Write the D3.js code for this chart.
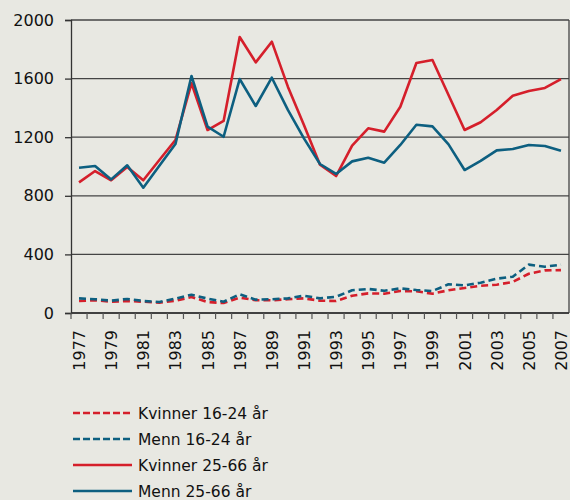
<!DOCTYPE html>
<html>
<head>
<meta charset="utf-8">
<script src="https://cdn.jsdelivr.net/npm/d3@7"></script>
<style>
  body { margin: 0; background: #e8e8e2; }
  svg { display: block; font-family: "DejaVu Sans", sans-serif; }
</style>
</head>
<body>
<div class="board"></div>
<script>
const years = d3.range(1977, 2008)

// values
const kvinnerUng = [82, 87, 77, 82, 77, 70, 84, 109, 75, 68, 105, 87, 87, 94, 100, 84,
    82, 118, 134, 132, 150, 148, 132, 155, 171, 186, 193, 212, 268, 291, 293]
const mennUng = [100, 94, 84, 96, 82, 75, 98, 125, 98, 77, 128, 91, 94, 100, 118, 100,
    111, 155, 164, 152, 168, 157, 150, 196, 189, 207, 234, 248, 330, 316, 330]
const kvinnerVoksen = [892, 969, 906, 997, 906, 1044, 1181, 1568, 1249, 1311, 1884, 1711,
    1852, 1545, 1283, 1012, 935, 1142, 1261, 1238, 1408, 1706, 1727, 1488, 1249, 1302,
    1386, 1483, 1515, 1536, 1597]
const mennVoksen = [992, 1003, 912, 1008, 855, 1005, 1153, 1618, 1272, 1203, 1597, 1413,
    1606, 1386, 1192, 1017, 949, 1035, 1060, 1026, 1147, 1285, 1274, 1151, 976, 1038,
    1110, 1119, 1147, 1140, 1108]

const yTicks = [0, 400, 800, 1200, 1600, 2000]
const labels = ["Kvinner 16-24 år", "Menn 16-24 år", "Kvinner 25-66 år", "Menn 25-66 år"]

const RED = "#d51f2b", BLUE = "#0d5f80"

const series = [
    { name: labels[0], values: kvinnerUng, color: RED, dash: "7,4" },
    { name: labels[1], values: mennUng, color: BLUE, dash: "7,4" },
    { name: labels[2], values: kvinnerVoksen, color: RED, dash: null },
    { name: labels[3], values: mennVoksen, color: BLUE, dash: null }
]

const W = 570, H = 500
const margin = { top: 20, right: 1, bottom: 187, left: 71 }
const width = W - margin.left - margin.right,
    height = H - margin.top - margin.bottom

const svg = d3.select(".board")
    .append("svg")
    .attr("width", W)
    .attr("height", H)

const g = svg.append("g")
    .attr("transform", `translate(${margin.left}, ${margin.top})`)

const xScale = d3.scaleBand()
    .domain(years)
    .range([0, width])

const yScale = d3.scaleLinear()
    .domain([0, 2000])
    .range([height, 0])

// gridlines
g.selectAll(".grid")
    .data(yTicks)
    .enter()
    .append("line")
    .attr("x1", 0)
    .attr("x2", width)
    .attr("y1", d => yScale(d))
    .attr("y2", d => yScale(d))
    .attr("stroke", "#444")
    .attr("stroke-width", 1.3)

// right frame
g.append("line")
    .attr("x1", width).attr("x2", width)
    .attr("y1", 0).attr("y2", height)
    .attr("stroke", "#444")
    .attr("stroke-width", 1.3)

// y axis
const yAxis = g.append("g")
    .call(d3.axisLeft(yScale).tickValues(yTicks).tickFormat(d3.format("d")).tickSize(6).tickPadding(11))
yAxis.selectAll("text")
    .attr("font-size", 16)
    .attr("font-family", "DejaVu Sans")
    .attr("fill", "#111")
yAxis.selectAll("line, path").attr("stroke", "#333").attr("stroke-width", 1.3)

// x axis: ticks on band edges, labels every second year
const xAxis = g.append("g")
    .attr("transform", `translate(0, ${height})`)
xAxis.append("line")
    .attr("x1", 0).attr("x2", width)
    .attr("stroke", "#333")
    .attr("stroke-width", 1.5)
xAxis.selectAll(".tick")
    .data(years)
    .enter()
    .append("line")
    .attr("x1", d => xScale(d))
    .attr("x2", d => xScale(d))
    .attr("y1", 0)
    .attr("y2", 6)
    .attr("stroke", "#555")
    .attr("stroke-width", 1.2)
xAxis.selectAll(".yearlabel")
    .data(years.filter(d => (d - 1977) % 2 == 0))
    .enter()
    .append("text")
    .attr("transform", d => `translate(${xScale(d) + xScale.bandwidth() / 2 + 6}, 17) rotate(-90)`)
    .attr("text-anchor", "end")
    .attr("font-size", 16)
    .attr("fill", "#111")
    .text(d => d)

// lines
const line = d3.line()
    .x((d, i) => xScale(years[i]) + xScale.bandwidth() / 2)
    .y(d => yScale(d))

g.selectAll(".series")
    .data(series)
    .enter()
    .append("path")
    .attr("fill", "none")
    .attr("stroke", d => d.color)
    .attr("stroke-width", 2.6)
    .attr("stroke-dasharray", d => d.dash)
    .attr("stroke-linejoin", "round")
    .attr("d", d => line(d.values))

// legend
const legend = svg.append("g")
    .attr("transform", "translate(73, 413)")
const rows = legend.selectAll(".row")
    .data(series)
    .enter()
    .append("g")
    .attr("transform", (d, i) => `translate(0, ${i * 26})`)
rows.append("line")
    .attr("x1", 0).attr("x2", 59)
    .attr("stroke", d => d.color)
    .attr("stroke-width", 2.4)
    .attr("stroke-dasharray", d => d.dash ? "7,3" : null)
rows.append("text")
    .attr("x", 65)
    .attr("y", 6)
    .attr("font-size", 15.5)
    .attr("fill", "#111")
    .text(d => d.name)
</script>
</body>
</html>
